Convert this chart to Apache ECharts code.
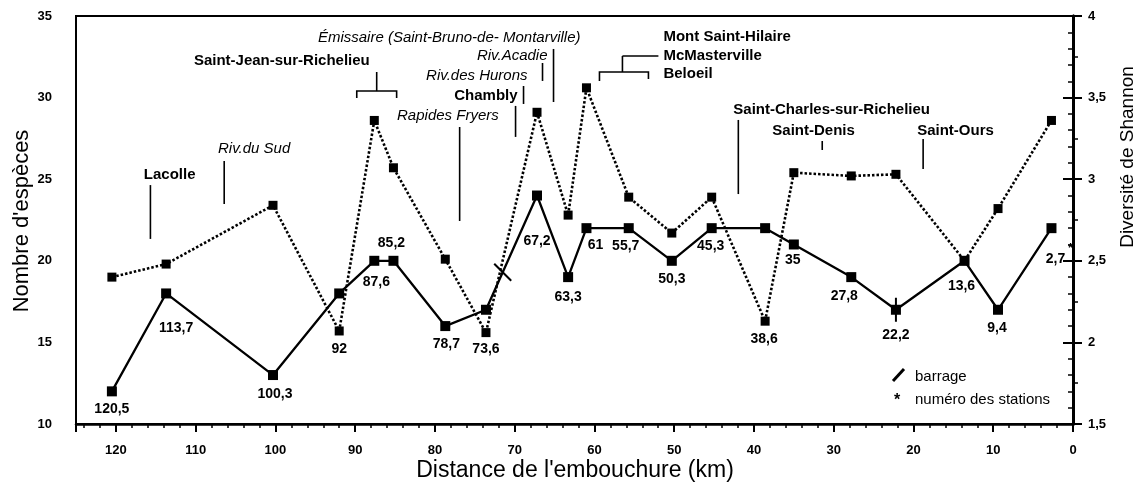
<!DOCTYPE html>
<html>
<head>
<meta charset="utf-8">
<script src="https://cdn.jsdelivr.net/npm/echarts@6/dist/echarts.min.js"></script>
<style>
  html, body { margin: 0; padding: 0; background: #fff; }
  #chart { width: 1144px; height: 486px; }
</style>
</head>
<body>
<div id="chart"></div>
<script>
// Sampling stations, distance from the river mouth (km)
const stationKm = [120.5, 113.7, 100.3, 92, 87.6, 85.2, 78.7, 73.6, 67.2, 63.3, 61, 55.7, 50.3, 45.3, 38.6, 35, 27.8, 22.2, 13.6, 9.4, 2.7];
// Number of species caught at each station (left axis)
const speciesCount = [12, 18, 13, 18, 20, 20, 16, 17, 24, 19, 22, 22, 20, 22, 22, 21, 19, 17, 20, 17, 22];
// Shannon diversity index at each station (right axis)
const shannonH = [2.40, 2.48, 2.84, 2.07, 3.36, 3.07, 2.51, 2.06, 3.41, 2.78, 3.56, 2.89, 2.67, 2.89, 2.13, 3.04, 3.02, 3.03, 2.50, 2.82, 3.36];
// Dams (barrages) along the river, km from the mouth
const damKm = [71.5, 22.2];
// Station carrying the "station number" asterisk
const numberedStation = 2.7;

// Axis ranges
const SP_MIN = 10, SP_MAX = 35, SP_STEP = 5;
const H_MIN = 1.5, H_MAX = 4, H_STEP = 0.5;
const KM_MIN = 0, KM_MAX = 125, KM_STEP = 10;

const FONT = '"Liberation Sans", Arial, Helvetica, sans-serif';
const fmt = v => String(v).replace('.', ',');

// Label placement for each station: pixel offset from its marker and which curve it hangs on
const labelLayout = [
  [0, 18, 'S'], [10, 35, 'S'], [2, 19, 'S'], [0, 18, 'H'], [2, 21, 'S'], [-2, -18, 'S'],
  [1, 18, 'S'], [0, 17, 'H'], [0, 46, 'S'], [0, 20, 'S'], [9, 17, 'S'], [-3, 18, 'S'],
  [0, 18, 'S'], [-1, 18, 'S'], [-1, 18, 'H'], [-1, 16, 'S'], [-7, 19, 'S'], [0, 25, 'S'],
  [-3, 25, 'S'], [-1, 18, 'S'], [4, 31, 'S']
];
// Drawing angle of each dam stroke (degrees, screen space)
const damTilt = [45, 90];

// Localities along the Richelieu, placed in axis units [km, species scale]
const places = [
  { name: 'Lacolle', bold: true, at: [116.5, 25.26], align: 'left',
    lines: [[[115.67, 24.64], [115.67, 21.34]]] },
  { name: 'Riv.du Sud', bold: false, at: [107.2, 26.85], align: 'left',
    lines: [[[106.42, 26.12], [106.42, 23.48]]] },
  { name: 'Saint-Jean-sur-Richelieu', bold: true, at: [110.22, 32.24], align: 'left',
    lines: [[[87.3, 31.57], [87.3, 30.40]],
            [[89.8, 29.97], [89.8, 30.40], [84.8, 30.40], [84.8, 29.97]]] },
  { name: 'Émissaire (Saint-Bruno-de- Montarville)', bold: false, at: [61.75, 33.65], align: 'right',
    lines: [[[65.13, 32.98], [65.13, 29.73]]] },
  { name: 'Riv.Acadie', bold: false, at: [65.88, 32.55], align: 'right',
    lines: [[[66.51, 32.12], [66.51, 31.02]]] },
  { name: 'Riv.des Hurons', bold: false, at: [68.39, 31.32], align: 'right',
    lines: [[[68.89, 30.71], [68.89, 29.61]]] },
  { name: 'Chambly', bold: true, at: [69.64, 30.10], align: 'right',
    lines: [[[69.89, 29.49], [69.89, 27.59]]] },
  { name: 'Rapides Fryers', bold: false, at: [72.0, 28.87], align: 'right',
    lines: [[[76.9, 28.2], [76.9, 22.44]]] },
  { name: 'Mont Saint-Hilaire', bold: true, at: [51.35, 33.71], align: 'left', lines: [] },
  { name: 'McMasterville', bold: true, at: [51.35, 32.55], align: 'left',
    lines: [[[56.49, 32.55], [51.98, 32.55]],
            [[56.49, 32.55], [56.49, 31.57]],
            [[59.37, 31.02], [59.37, 31.57], [53.23, 31.57], [53.23, 31.14]]] },
  { name: 'Beloeil', bold: true, at: [51.35, 31.45], align: 'left', lines: [] },
  { name: 'Saint-Charles-sur-Richelieu', bold: true, at: [42.59, 29.24], align: 'left',
    lines: [[[41.96, 28.63], [41.96, 24.09]]] },
  { name: 'Saint-Denis', bold: true, at: [37.7, 27.95], align: 'left',
    lines: [[[31.44, 27.34], [31.44, 26.79]]] },
  { name: 'Saint-Ours', bold: true, at: [19.54, 27.95], align: 'left',
    lines: [[[18.79, 27.47], [18.79, 25.63]]] }
];

// Shannon values expressed on the species axis (both axes share the plot height)
function toSpeciesScale(h) {
  return SP_MIN + (h - H_MIN) * (SP_MAX - SP_MIN) / (H_MAX - H_MIN);
}
// Species curve value at any km, following the drawn segments
function speciesAt(km) {
  for (let i = 0; i < stationKm.length - 1; i++) {
    const a = stationKm[i], b = stationKm[i + 1];
    if (km <= a && km >= b) {
      const t = (a - km) / (a - b);
      return speciesCount[i] + t * (speciesCount[i + 1] - speciesCount[i]);
    }
  }
  return speciesCount[0];
}

function textStyle(text, x, y, font, align, vAlign) {
  return {
    text, x, y, font, fill: '#000',
    align: align, verticalAlign: vAlign,
    textAlign: align, textVerticalAlign: vAlign
  };
}

function renderPlace(params, api) {
  const p = places[params.dataIndex];
  const t = api.coord(p.at);
  const font = (p.bold ? 'bold 15px ' : 'italic 15px ') + FONT;
  const children = [{ type: 'text', style: textStyle(p.name, t[0], t[1], font, p.align, 'middle') }];
  p.lines.forEach(seg => {
    children.push({
      type: 'polyline',
      shape: { points: seg.map(q => api.coord(q)) },
      style: { stroke: '#000', lineWidth: 1.6, fill: null }
    });
  });
  return { type: 'group', children };
}

function renderStationLabel(params, api) {
  const i = params.dataIndex;
  const [dx, dy, on] = labelLayout[i];
  const val = on === 'H' ? toSpeciesScale(shannonH[i]) : speciesCount[i];
  const p = api.coord([stationKm[i], val]);
  const font = 'bold 14px ' + FONT;
  const children = [{ type: 'text', style: textStyle(fmt(stationKm[i]), p[0] + dx, p[1] + dy, font, 'center', 'middle') }];
  if (stationKm[i] === numberedStation) {
    children.push({ type: 'text', style: textStyle('*', p[0] + 19, p[1] + 20, 'bold 13px ' + FONT, 'center', 'middle') });
  }
  return { type: 'group', children };
}

function renderDam(params, api) {
  const i = params.dataIndex;
  const p = api.coord([damKm[i], speciesAt(damKm[i])]);
  const a = damTilt[i] * Math.PI / 180, r = 12;
  return {
    type: 'line',
    shape: { x1: p[0] - r * Math.cos(a), y1: p[1] - r * Math.sin(a), x2: p[0] + r * Math.cos(a), y2: p[1] + r * Math.sin(a) },
    style: { stroke: '#000', lineWidth: 2 }
  };
}

const tickFont = { color: '#000', fontFamily: FONT, fontWeight: 'bold', fontSize: 13 };

const option = {
  animation: false,
  backgroundColor: '#fff',
  grid: { left: 76, right: 71, top: 16, bottom: 62, show: true, borderColor: '#000', borderWidth: 2 },
  xAxis: {
    type: 'value', min: KM_MIN, max: KM_MAX, interval: KM_STEP, inverse: true,
    axisLine: { lineStyle: { color: '#000', width: 2.5 } },
    axisTick: { length: 8, lineStyle: { color: '#000', width: 2 } },
    minorTick: { show: true, splitNumber: 5, length: 4, lineStyle: { color: '#000', width: 1.5 } },
    splitLine: { show: false },
    axisLabel: Object.assign({ margin: 20, formatter: v => (v > 120 ? '' : String(v)) }, tickFont)
  },
  yAxis: [
    {
      type: 'value', position: 'left', min: SP_MIN, max: SP_MAX, interval: SP_STEP,
      axisLine: { show: true, lineStyle: { color: '#000', width: 3 } },
      axisTick: { show: true, length: 10, lineStyle: { color: '#000', width: 2 } },
      minorTick: { show: true, splitNumber: 5, length: 5, lineStyle: { color: '#000', width: 1.5 } },
      splitLine: { show: false },
      axisLabel: Object.assign({ margin: 24 }, tickFont)
    },
    {
      type: 'value', position: 'right', min: H_MIN, max: H_MAX, interval: H_STEP,
      axisLine: { show: true, lineStyle: { color: '#000', width: 3 } },
      axisTick: { show: true, length: 9, lineStyle: { color: '#000', width: 2 } },
      minorTick: { show: true, splitNumber: 2, length: 5, lineStyle: { color: '#000', width: 1.5 } },
      splitLine: { show: false },
      axisLabel: Object.assign({ margin: 15, formatter: v => fmt(v) }, tickFont)
    }
  ],
  graphic: [
    { type: 'text', x: 22, y: 221, rotation: Math.PI / 2,
      style: textStyle("Nombre d'espèces", 0, 0, '22px ' + FONT, 'center', 'middle') },
    { type: 'text', x: 1128, y: 157, rotation: Math.PI / 2,
      style: textStyle('Diversité de Shannon', 0, 0, '19px ' + FONT, 'center', 'middle') },
    { type: 'text', x: 575, y: 471,
      style: textStyle("Distance de l'embouchure (km)", 0, 0, '23px ' + FONT, 'center', 'middle') },
    // key
    { type: 'line', shape: { x1: 893, y1: 381, x2: 904, y2: 369 }, style: { stroke: '#000', lineWidth: 3 } },
    { type: 'text', style: textStyle('barrage', 915, 377, '15px ' + FONT, 'left', 'middle') },
    { type: 'text', style: textStyle('*', 897, 401, 'bold 16px ' + FONT, 'center', 'middle') },
    { type: 'text', style: textStyle('numéro des stations', 915, 400, '15px ' + FONT, 'left', 'middle') }
  ],
  series: [
    {
      name: 'Diversité de Shannon', type: 'line', yAxisIndex: 1,
      data: stationKm.map((k, i) => [k, shannonH[i]]),
      symbol: 'rect', symbolSize: 9,
      itemStyle: { color: '#000' },
      lineStyle: { color: '#000', width: 2.6, type: [2.5, 2] },
      z: 3
    },
    {
      name: "Nombre d'espèces", type: 'line', yAxisIndex: 0,
      data: stationKm.map((k, i) => [k, speciesCount[i]]),
      symbol: 'rect', symbolSize: 10,
      itemStyle: { color: '#000' },
      lineStyle: { color: '#000', width: 2.3 },
      z: 4
    },
    {
      name: 'barrages', type: 'custom', renderItem: renderDam, clip: false, silent: true,
      data: damKm.map(k => [k, speciesAt(k)]), encode: { x: 0, y: 1 }, z: 5
    },
    {
      name: 'stations', type: 'custom', renderItem: renderStationLabel, clip: false, silent: true,
      data: stationKm.map((k, i) => [k, speciesCount[i]]), encode: { x: 0, y: 1 }, z: 6
    },
    {
      name: 'localités', type: 'custom', renderItem: renderPlace, clip: false, silent: true,
      data: places.map(p => p.at), encode: { x: 0, y: 1 }, z: 6
    }
  ]
};

const chart = echarts.init(document.getElementById('chart'), null, { renderer: 'canvas' });
chart.setOption(option);
</script>
</body>
</html>
